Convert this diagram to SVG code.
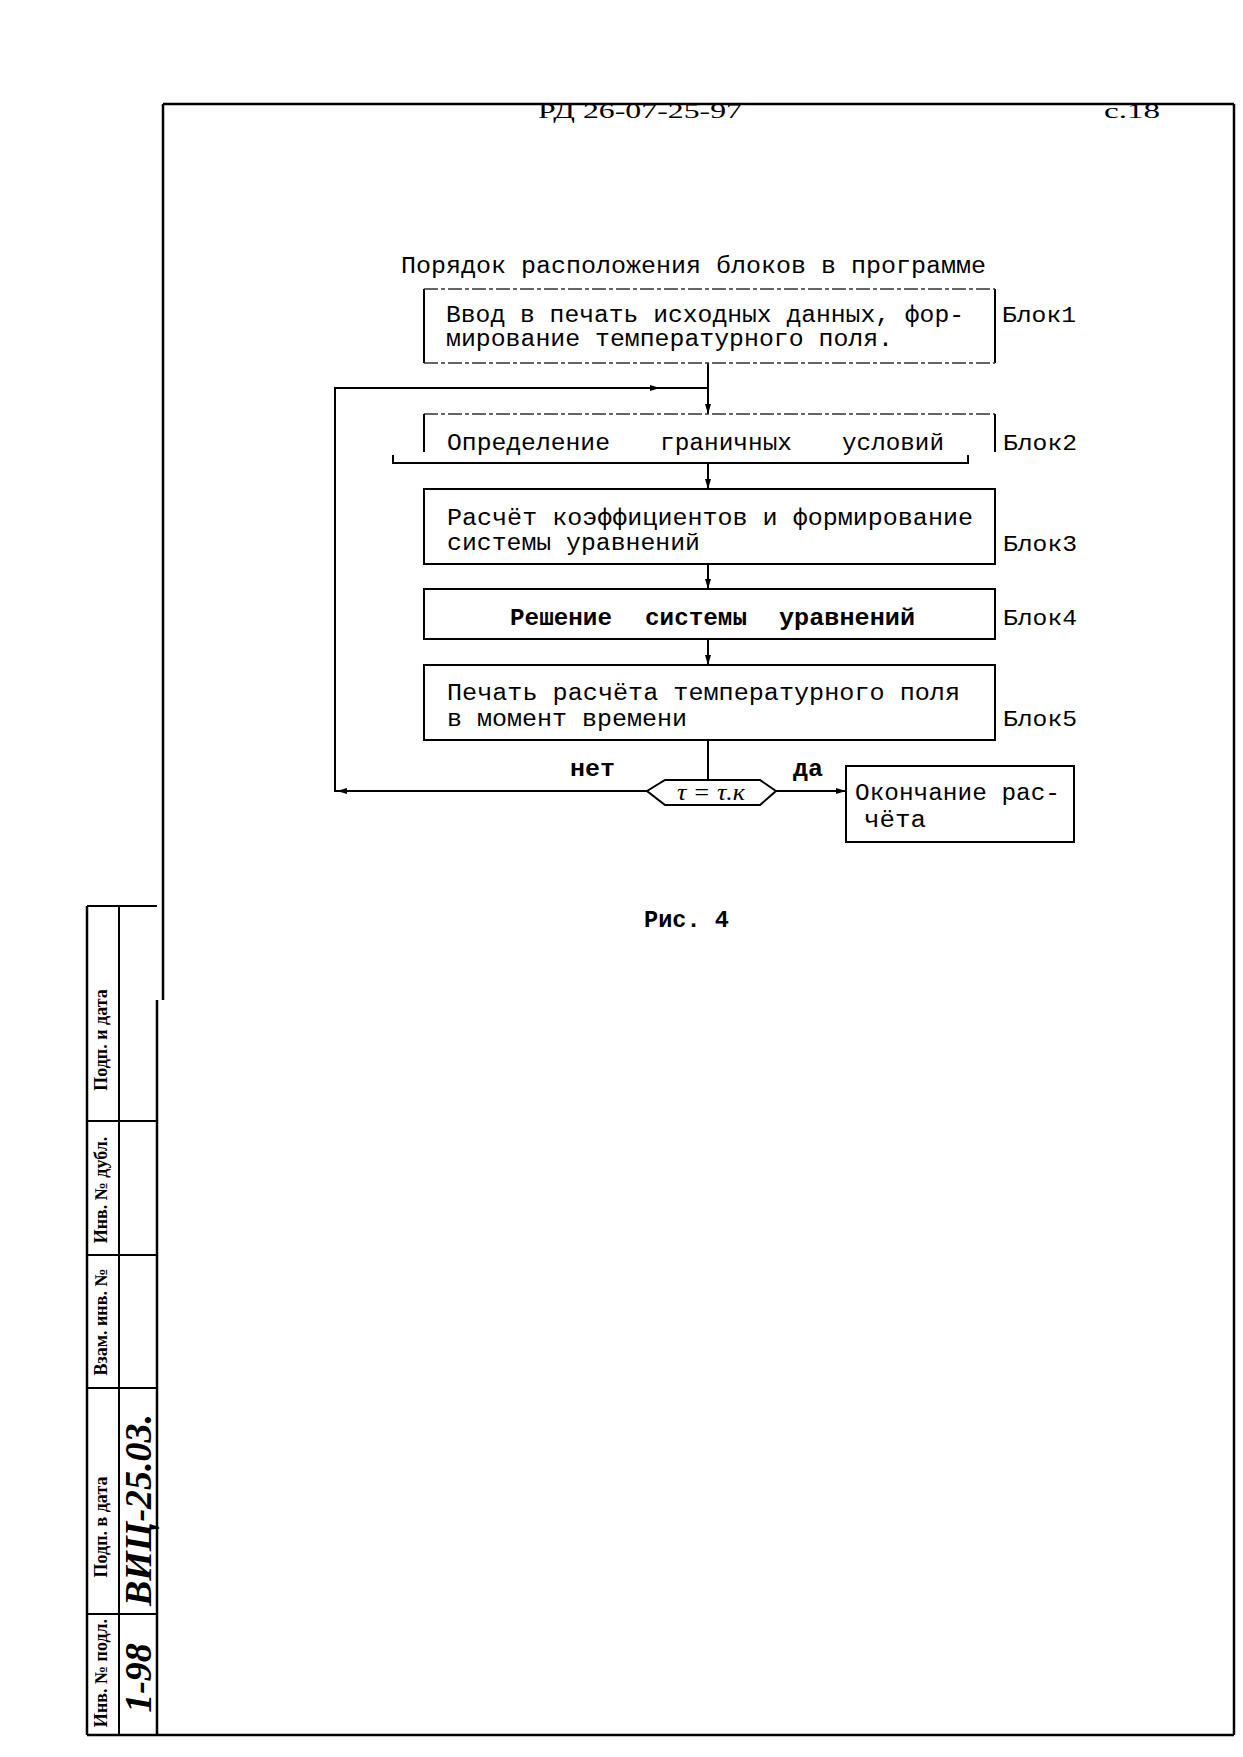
<svg xmlns="http://www.w3.org/2000/svg" width="1243" height="1757" viewBox="0 0 1243 1757">
<style>
.frame{stroke:#000;stroke-width:2.5;fill:none}
.box{stroke:#000;stroke-width:2;fill:#fff}
.faint{stroke:#333;stroke-width:1.6;stroke-dasharray:14 3 4 3;fill:none}
.ln{stroke:#000;stroke-width:2;fill:none}
.t{font-family:"Liberation Mono","DejaVu Sans Mono",monospace;font-size:23px;fill:#000}
.b{font-weight:bold}
.lbl{font-family:"Liberation Mono","DejaVu Sans Mono",monospace;font-size:22px;fill:#000}
.hdr{font-family:"Liberation Serif","DejaVu Serif",serif;font-size:21px;fill:#000}
.stamp{font-family:"Liberation Serif","DejaVu Serif",serif;font-size:18px;font-weight:bold;fill:#000}
.hand{font-family:"Liberation Serif","DejaVu Serif",serif;font-style:italic;font-weight:bold;font-size:38px;fill:#000}
</style>
<defs>
<marker id="arr" viewBox="0 0 10 6" refX="10" refY="3" markerWidth="10" markerHeight="6" markerUnits="userSpaceOnUse" orient="auto">
<path d="M0,0 L10,3 L0,6 z" fill="#000"/>
</marker>
</defs>
<rect width="1243" height="1757" fill="#fff"/>

<g id="page-frame">
<line class="frame" x1="163" y1="104" x2="163" y2="1000"/>
<line class="frame" x1="157" y1="1000" x2="157" y2="1735"/>
<line class="frame" x1="163" y1="104" x2="1234" y2="104"/>
<line class="frame" x1="1234" y1="104" x2="1234" y2="1735"/>
<line class="frame" x1="87" y1="1735" x2="1234" y2="1735"/>
<text class="hdr" x="538" y="118" textLength="204" lengthAdjust="spacingAndGlyphs">РД 26-07-25-97</text>
<text class="hdr" x="1104" y="118" textLength="56" lengthAdjust="spacingAndGlyphs">с.18</text>
</g>

<g id="stamp-strip">
<line class="frame" x1="87" y1="906" x2="87" y2="1735"/>
<line class="ln" x1="119" y1="906" x2="119" y2="1735"/>
<line class="ln" x1="87" y1="906" x2="157" y2="906"/>
<line class="ln" x1="87" y1="1121" x2="157" y2="1121"/>
<line class="ln" x1="87" y1="1255" x2="157" y2="1255"/>
<line class="ln" x1="87" y1="1388" x2="157" y2="1388"/>
<line class="ln" x1="87" y1="1614" x2="157" y2="1614"/>
<text class="stamp" transform="translate(107,1040) rotate(-90)" text-anchor="middle">Подп. и дата</text>
<text class="stamp" transform="translate(107,1190) rotate(-90)" text-anchor="middle">Инв. № дубл.</text>
<text class="stamp" transform="translate(107,1322) rotate(-90)" text-anchor="middle">Взам. инв. №</text>
<text class="stamp" transform="translate(107,1527) rotate(-90)" text-anchor="middle">Подп. в дата</text>
<text class="stamp" transform="translate(107,1673) rotate(-90)" text-anchor="middle">Инв. № подл.</text>
<text class="hand" transform="translate(151,1510) rotate(-90)" text-anchor="middle">ВИЦ-25.03.</text>
<text class="hand" transform="translate(151,1678) rotate(-90)" text-anchor="middle">1-98</text>
</g>

<g id="title">
<text class="t" x="401" y="273" textLength="585" lengthAdjust="spacingAndGlyphs">Порядок расположения блоков в программе</text>
</g>

<g id="connectors">
<line class="ln" x1="708" y1="363" x2="708" y2="414" marker-end="url(#arr)"/>
<line class="ln" x1="708" y1="463" x2="708" y2="489" marker-end="url(#arr)"/>
<line class="ln" x1="708" y1="564" x2="708" y2="589" marker-end="url(#arr)"/>
<line class="ln" x1="708" y1="639" x2="708" y2="665" marker-end="url(#arr)"/>
<line class="ln" x1="708" y1="740" x2="708" y2="780"/>
<polyline class="ln" points="647,791 335,791 335,388 708,388"/>
<line class="ln" x1="380" y1="791" x2="337" y2="791" marker-end="url(#arr)"/>
<line class="ln" x1="630" y1="388" x2="660" y2="388" marker-end="url(#arr)"/>
<line class="ln" x1="776" y1="791" x2="846" y2="791" marker-end="url(#arr)"/>
<text class="t b" x="570" y="776" textLength="45" lengthAdjust="spacingAndGlyphs">нет</text>
<text class="t b" x="793" y="776" textLength="30" lengthAdjust="spacingAndGlyphs">да</text>
</g>

<g id="block1">
<line class="ln" x1="424" y1="289" x2="424" y2="363"/>
<line class="ln" x1="995" y1="289" x2="995" y2="363"/>
<line class="faint" x1="424" y1="289" x2="995" y2="289"/>
<line class="faint" x1="424" y1="363" x2="995" y2="363"/>
<text class="t" x="446" y="322" textLength="518" lengthAdjust="spacingAndGlyphs">Ввод в печать исходных данных, фор-</text>
<text class="t" x="446" y="346" textLength="447" lengthAdjust="spacingAndGlyphs">мирование температурного поля.</text>
<text class="lbl" x="1002" y="322" textLength="74" lengthAdjust="spacingAndGlyphs">Блок1</text>
</g>

<g id="block2">
<line class="faint" x1="424" y1="414" x2="995" y2="414"/>
<line class="ln" x1="424" y1="414" x2="424" y2="452"/>
<line class="ln" x1="995" y1="414" x2="995" y2="452"/>
<polyline class="ln" points="393,455 393,463 968,463 968,455"/>
<text class="t" x="447" y="450" textLength="163" lengthAdjust="spacingAndGlyphs">Определение</text>
<text class="t" x="660" y="450" textLength="132" lengthAdjust="spacingAndGlyphs">граничных</text>
<text class="t" x="842" y="450" textLength="102" lengthAdjust="spacingAndGlyphs">условий</text>
<text class="lbl" x="1003" y="450" textLength="74" lengthAdjust="spacingAndGlyphs">Блок2</text>
</g>

<g id="block3">
<rect class="box" x="424" y="489" width="571" height="75"/>
<text class="t" x="447" y="525" textLength="526" lengthAdjust="spacingAndGlyphs">Расчёт коэффициентов и формирование</text>
<text class="t" x="447" y="550" textLength="253" lengthAdjust="spacingAndGlyphs">системы уравнений</text>
<text class="lbl" x="1003" y="551" textLength="74" lengthAdjust="spacingAndGlyphs">Блок3</text>
</g>

<g id="block4">
<rect class="box" x="424" y="589" width="571" height="50"/>
<text class="t b" x="510" y="625" textLength="102" lengthAdjust="spacingAndGlyphs">Решение</text>
<text class="t b" x="645" y="625" textLength="102" lengthAdjust="spacingAndGlyphs">системы</text>
<text class="t b" x="779" y="625" textLength="136" lengthAdjust="spacingAndGlyphs">уравнений</text>
<text class="lbl" x="1003" y="625" textLength="74" lengthAdjust="spacingAndGlyphs">Блок4</text>
</g>

<g id="block5">
<rect class="box" x="424" y="665" width="571" height="75"/>
<text class="t" x="447" y="700" textLength="513" lengthAdjust="spacingAndGlyphs">Печать расчёта температурного поля</text>
<text class="t" x="447" y="726" textLength="240" lengthAdjust="spacingAndGlyphs">в момент времени</text>
<text class="lbl" x="1003" y="726" textLength="74" lengthAdjust="spacingAndGlyphs">Блок5</text>
</g>

<g id="decision">
<polygon class="box" points="647,791 665,780 760,780 776,791 760,805 665,805"/>
<text x="711" y="800" text-anchor="middle" font-family="Liberation Serif, DejaVu Serif, serif" font-style="italic" font-size="24" textLength="68" lengthAdjust="spacingAndGlyphs">τ = τ.к</text>
</g>

<g id="end-block">
<rect class="box" x="846" y="766" width="228" height="76"/>
<text class="t" x="855" y="800" textLength="205" lengthAdjust="spacingAndGlyphs">Окончание рас-</text>
<text class="t" x="864" y="827" textLength="62" lengthAdjust="spacingAndGlyphs">чёта</text>
</g>

<g id="caption">
<text class="t b" x="644" y="927" textLength="85" lengthAdjust="spacingAndGlyphs">Рис. 4</text>
</g>
</svg>
